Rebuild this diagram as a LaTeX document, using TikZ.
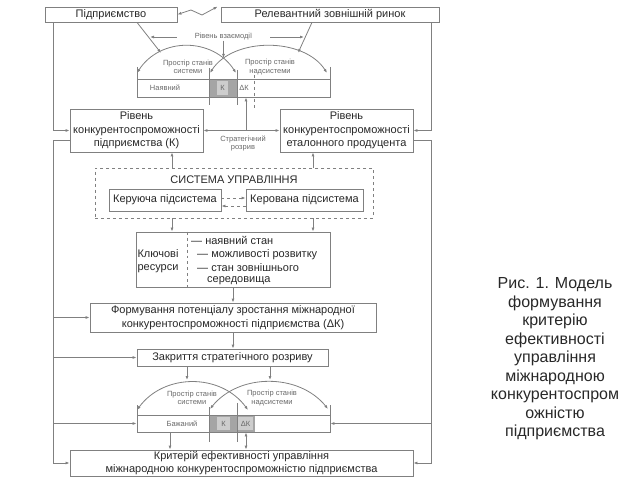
\documentclass[tikz,border=0pt]{standalone}
\usepackage{fontspec}
\setmainfont{Liberation Sans}
\usetikzlibrary{arrows.meta}

\definecolor{lgray}{RGB}{128,128,128}
\definecolor{tgray}{RGB}{40,40,40}
\definecolor{sgray}{RGB}{105,105,105}
\definecolor{dgray}{RGB}{165,165,165}
\definecolor{pgray}{RGB}{205,205,205}

\begin{document}
\begin{tikzpicture}[x=1bp,y=-1bp,>={Latex[length=4bp,width=3bp]}]

    \useasboundingbox (0,0) rectangle (640,480);
    \tikzset{blok/.style={draw=lgray,line width=0.8bp,fill=white,align=center,inner sep=0pt,
                          text=tgray,font=\fontsize{11bp}{13.5bp}\selectfont},
             mala/.style={inner sep=0pt,text=sgray,align=center,font=\fontsize{7.5bp}{8.5bp}\selectfont},
             lnk/.style={draw=lgray,line width=0.8bp},
             rys/.style={inner sep=0pt,text=tgray,align=left,font=\fontsize{11bp}{13.5bp}\selectfont}}

    % Verkhni bloky
    \node[blok,minimum width=132bp,minimum height=15bp] (pidpr) at (111,14.5) {Підприємство};
    \node[blok,minimum width=218bp,minimum height=15bp] (rynok) at (330,14.5) {Релевантний зовнішній ринок};

    \node[blok,minimum width=133bp,minimum height=43bp] (rivK) at (136.5,130.5) {Рівень\\конкурентоспроможності\\підприємства (К)};
    \node[blok,minimum width=133bp,minimum height=43bp] (rivE) at (346.5,130.5) {Рівень\\конкурентоспроможності\\еталонного продуцента};

    \node[blok,dashed,fill=none,minimum width=278bp,minimum height=50bp] (sysU) at (234,193) {};
    \node[rys] (sysT) at (234,180) {СИСТЕМА УПРАВЛІННЯ};
    \node[blok,minimum width=112bp,minimum height=22bp] (keru) at (165,200) {Керуюча підсистема};
    \node[blok,minimum width=117bp,minimum height=22bp] (kerov) at (304.5,200) {Керована підсистема};

    \node[blok,minimum width=194bp,minimum height=55bp] (res) at (233,259.5) {};
    \node[rys,align=center] (resK) at (158,261) {Ключові\\ресурси};
    \node[rys,anchor=west] (res1) at (191,240.5) {— наявний стан};
    \node[rys,anchor=west] (res2) at (197,254.5) {— можливості розвитку};
    \node[rys,anchor=west] (res3) at (197,268) {— стан зовнішнього};
    \node[rys,anchor=west] (res4) at (207,281) {середовища};

    \node[blok,minimum width=286bp,minimum height=29bp] (form) at (233,317.5) {Формування потенціалу зростання міжнародної\\конкурентоспроможності підприємства (ΔК)};
    \node[blok,minimum width=191bp,minimum height=17bp] (zakr) at (232.5,357.5) {Закриття стратегічного розриву};
    \node[blok,minimum width=343bp,minimum height=26bp] (kryt) at (241.5,463) {Критерій ефективності управління\\міжнародною конкурентоспроможністю підприємства};

    % Shkaly stanu
    \fill[dgray] (209,79) rectangle (237,97);
    \fill[pgray] (217,81) rectangle (228,95);
    \node[blok,fill=none,minimum width=193bp,minimum height=18bp] (barN) at (233.5,88) {};
    \node[mala] (nN) at (165,88) {Наявний};
    \node[mala] (kN) at (222.5,88) {К};
    \node[mala] (dN) at (244,88) {ΔК};

    \fill[dgray] (209,415) rectangle (255,432);
    \fill[pgray] (217,417) rectangle (230,430);
    \fill[pgray] (238,417) rectangle (253,430);
    \node[blok,fill=none,minimum width=193bp,minimum height=17bp] (barB) at (233.5,423.5) {};
    \node[mala] (nB) at (182,423.5) {Бажаний};
    \node[mala] (kB) at (223.5,423.5) {К};
    \node[mala] (dB) at (245.5,423.5) {ΔК};

    \node[mala] (pS1) at (188,67) {Простір станів\\системи};
    \node[mala] (pN1) at (270,67) {Простір станів\\надсистеми};
    \node[mala] (pS2) at (192,398) {Простір станів\\системи};
    \node[mala] (pN2) at (272,398) {Простір станів\\надсистеми};

    \node[mala,minimum width=93bp] (vz) at (223.5,37) {Рівень взаємодії};
    \node[mala] (rozr) at (243,143.5) {Стратегічний\\розрив};

    % Dopomizhni tochky
    \coordinate (lx) at (53,0);
    \coordinate (rx) at (431,0);
    \coordinate (kL) at (53,140);
    \coordinate (kR) at (431,140);
    \coordinate (uK) at (172,0);
    \coordinate (uE) at (313,0);
    \coordinate (dL) at (161,53);
    \coordinate (dR) at (298,53);
    \coordinate (vzL) at (150,37);
    \coordinate (vzR) at (304,37);
    \coordinate (vzD) at (223.5,58);
    \coordinate (sr) at (246,130.5);
    \coordinate (pL) at (187,380);
    \coordinate (pR) at (270,380);
    \coordinate (bk) at (170,0);
    \coordinate (dk) at (246,0);

    \coordinate (cL1) at (137,73);
    \coordinate (cL2) at (236,73);
    \coordinate (cR1) at (210,73);
    \coordinate (cR2) at (327,73);
    \coordinate (cl1) at (137,410);
    \coordinate (cl2) at (248,410);
    \coordinate (cr1) at (210,409);
    \coordinate (cr2) at (328,409);

    \begin{scope}[every path/.style={lnk}]
        \draw[<->] (pidpr.east) -- (191,10) -- (202,15) -- ([xshift=-3bp]rynok.north west);

        \draw[->] ([xshift=26bp]pidpr.south) -- (dL);
        \draw[->] ([xshift=-18bp]rynok.south) -- (dR);
        \draw[->] (vz.west) -- (vzL);
        \draw[->] (vz.east) -- (vzR);
        \draw[->] (vz.south) -- (vzD);

        \draw[<->] (cL1) .. controls (160,37) and (213,37) .. (cL2);
        \draw[<->] (cR1) .. controls (233,37) and (304,37) .. (cR2);
        \draw (137,67) -- (137,79);
        \draw (330,67) -- (330,79);
        \draw (209,68) -- (209,105);
        \draw (237,70) -- (237,105);
        \draw[dashed] (254,75) -- (254,110);

        \draw[<->] (rivK.east) -- (rivE.west);
        \draw[->] (sr) -- (sr |- barN.south);

        \draw[->] (uK |- sysU.north) -- (uK |- rivK.south);
        \draw[->] (uE |- sysU.north) -- (uE |- rivE.south);
        \draw[dashed,->] ([yshift=2bp]keru.east) -- ([yshift=2bp]kerov.west);
        \draw[dashed,->] ([yshift=-6bp]kerov.west) -- ([yshift=-6bp]keru.east);
        \draw[->] (uK |- sysU.south) -- (uK |- res.north);
        \draw[->] (uE |- sysU.south) -- (uE |- res.north);
        \draw[dashed] (res.north -| 187,0) -- (res.south -| 187,0);

        \draw[->] (res.south) -- (form.north);
        \draw[->] (form.south) -- (form.south |- zakr.north);
        \draw[->] (zakr.south -| pL) -- (pL);
        \draw[->] (zakr.south -| pR) -- (pR);

        \draw[<->] (cl1) .. controls (164,373) and (221,373) .. (cl2);
        \draw[<->] (cr1) .. controls (239,373) and (299,373) .. (cr2);
        \draw (137,405) -- (137,415);
        \draw (330,405) -- (330,415);
        \draw (209,407) -- (209,442);
        \draw (237,403) -- (237,442);

        \draw[->] (bk |- barB.south) -- (bk |- kryt.north);
        \draw[<->] (dk |- barB.south) -- (dk |- kryt.north);

        % Zovnishni linii
        \draw[->] (pidpr.south -| lx) |- (rivK.west);
        \draw[->] (kL -| rivK.west) -- (kL) |- (kryt.west);
        \draw[->] (lx |- form.west) -- (form.west);
        \draw[->] (lx |- zakr.west) -- (zakr.west);
        \draw[->] (lx |- barB.west) -- (barB.west);

        \draw[->] (rynok.south -| rx) |- (rivE.east);
        \draw[->] (kR -| rivE.east) -- (kR) |- (kryt.east);
        \draw[->] (rx |- barB.east) -- (barB.east);
    \end{scope}

    \node[inner sep=0pt,align=center,text=tgray,font=\fontsize{16bp}{18.5bp}\selectfont] (rys) at (555,359)
        {Рис. 1. Модель\\формування\\критерію\\ефективності\\управління\\міжнародною\\конкурентоспром\\ожністю\\підприємства};

\end{tikzpicture}
\end{document}
